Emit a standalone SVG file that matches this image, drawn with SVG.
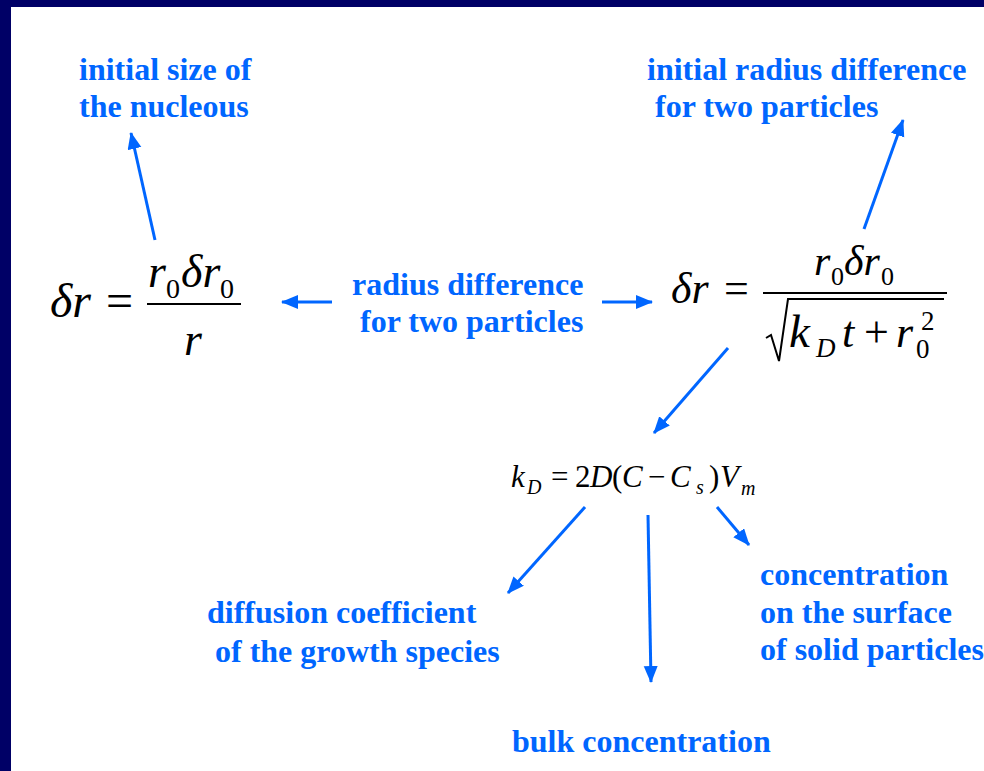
<svg xmlns="http://www.w3.org/2000/svg" width="984" height="771" viewBox="0 0 984 771">
<defs>
<style>
.lbl{font-family:"Liberation Serif","Times New Roman",serif;font-weight:bold;font-size:32px;fill:#0066ff}
.m{font-family:"Liberation Serif","Times New Roman",serif;fill:#000}
.i{font-style:italic}
.c{stroke:#0066ff;stroke-width:3;fill:none}
.bar{stroke:#000;stroke-width:2;fill:none}
</style>
<marker id="ah" markerUnits="userSpaceOnUse" markerWidth="18" markerHeight="16" refX="16" refY="7" orient="auto">
<path d="M0,0 L17,7 L0,14 z" fill="#0066ff"/>
</marker>
</defs>
<rect width="984" height="771" fill="#000066"/>
<rect x="11" y="7" width="973" height="764" fill="#fff"/>

<g id="label-nucleus">
<text class="lbl" x="79" y="80">initial size of</text>
<text class="lbl" x="79" y="117">the nucleous</text>
</g>
<g id="label-initial-diff">
<text class="lbl" x="647" y="80">initial radius difference</text>
<text class="lbl" x="655" y="117">for two particles</text>
</g>
<g id="label-radius-diff">
<text class="lbl" x="352" y="295">radius difference</text>
<text class="lbl" x="360" y="332">for two particles</text>
</g>
<g id="label-diffusion">
<text class="lbl" x="207" y="623">diffusion coefficient</text>
<text class="lbl" x="215" y="662">of the growth species</text>
</g>
<g id="label-surface">
<text class="lbl" x="760" y="585">concentration</text>
<text class="lbl" x="760" y="623">on the surface</text>
<text class="lbl" x="760" y="660" font-size="31.5">of solid particles</text>
</g>
<g id="label-bulk">
<text class="lbl" x="512" y="752">bulk concentration</text>
</g>

<g id="eq-left">
<text class="m i" x="50" y="317" font-size="48">δr</text>
<text class="m" x="106" y="317" font-size="48">=</text>
<text class="m" y="287" font-size="46"><tspan class="i" x="148">r</tspan><tspan x="166" y="298" font-size="28">0</tspan><tspan class="i" x="181" y="287">δr</tspan><tspan x="220" y="298" font-size="28">0</tspan></text>
<line class="bar" x1="147" y1="304" x2="241" y2="304"/>
<text class="m i" x="184" y="355" font-size="46">r</text>
</g>

<g id="eq-right">
<text class="m i" x="671" y="303" font-size="44">δr</text>
<text class="m" x="724" y="303" font-size="44">=</text>
<text class="m" y="275" font-size="42"><tspan class="i" x="814">r</tspan><tspan x="831" y="285" font-size="26">0</tspan><tspan class="i" x="844" y="275">δr</tspan><tspan x="881" y="285" font-size="26">0</tspan></text>
<line class="bar" x1="763" y1="293" x2="947" y2="293"/>
<path class="bar" d="M766,338 L771,335 L779,361 L788,299 L944,299" stroke-linejoin="miter"/>
<text class="m" y="347" font-size="44"><tspan class="i" x="789" font-size="47">k</tspan><tspan class="i" x="816" y="357" font-size="27">D</tspan><tspan class="i" x="842" y="347">t</tspan><tspan x="864">+</tspan><tspan class="i" x="896">r</tspan><tspan x="916" y="358" font-size="27">0</tspan><tspan x="921" y="330" font-size="27">2</tspan></text>
</g>

<g id="eq-kd">
<text class="m" y="487" font-size="31"><tspan class="i" x="511">k</tspan><tspan class="i" x="527" y="494" font-size="20">D</tspan><tspan x="551" y="487">=</tspan><tspan x="575">2</tspan><tspan class="i" x="590">D</tspan><tspan x="612">(</tspan><tspan class="i" x="622">C</tspan><tspan x="648">−</tspan><tspan class="i" x="670">C</tspan><tspan class="i" x="696" y="494" font-size="20">s</tspan><tspan x="709" y="487">)</tspan><tspan class="i" x="720">V</tspan><tspan class="i" x="741" y="495" font-size="20">m</tspan></text>
</g>

<g id="connectors">
<line class="c" x1="155" y1="240" x2="131" y2="133" marker-end="url(#ah)"/>
<line class="c" x1="864" y1="229" x2="903" y2="120" marker-end="url(#ah)"/>
<line class="c" x1="332" y1="302" x2="282" y2="302" marker-end="url(#ah)"/>
<line class="c" x1="602" y1="302" x2="652" y2="302" marker-end="url(#ah)"/>
<line class="c" x1="728" y1="348" x2="654" y2="433" marker-end="url(#ah)"/>
<line class="c" x1="585" y1="507" x2="508" y2="593" marker-end="url(#ah)"/>
<line class="c" x1="648" y1="515" x2="651" y2="682" marker-end="url(#ah)"/>
<line class="c" x1="717" y1="507" x2="749" y2="545" marker-end="url(#ah)"/>
</g>
</svg>
